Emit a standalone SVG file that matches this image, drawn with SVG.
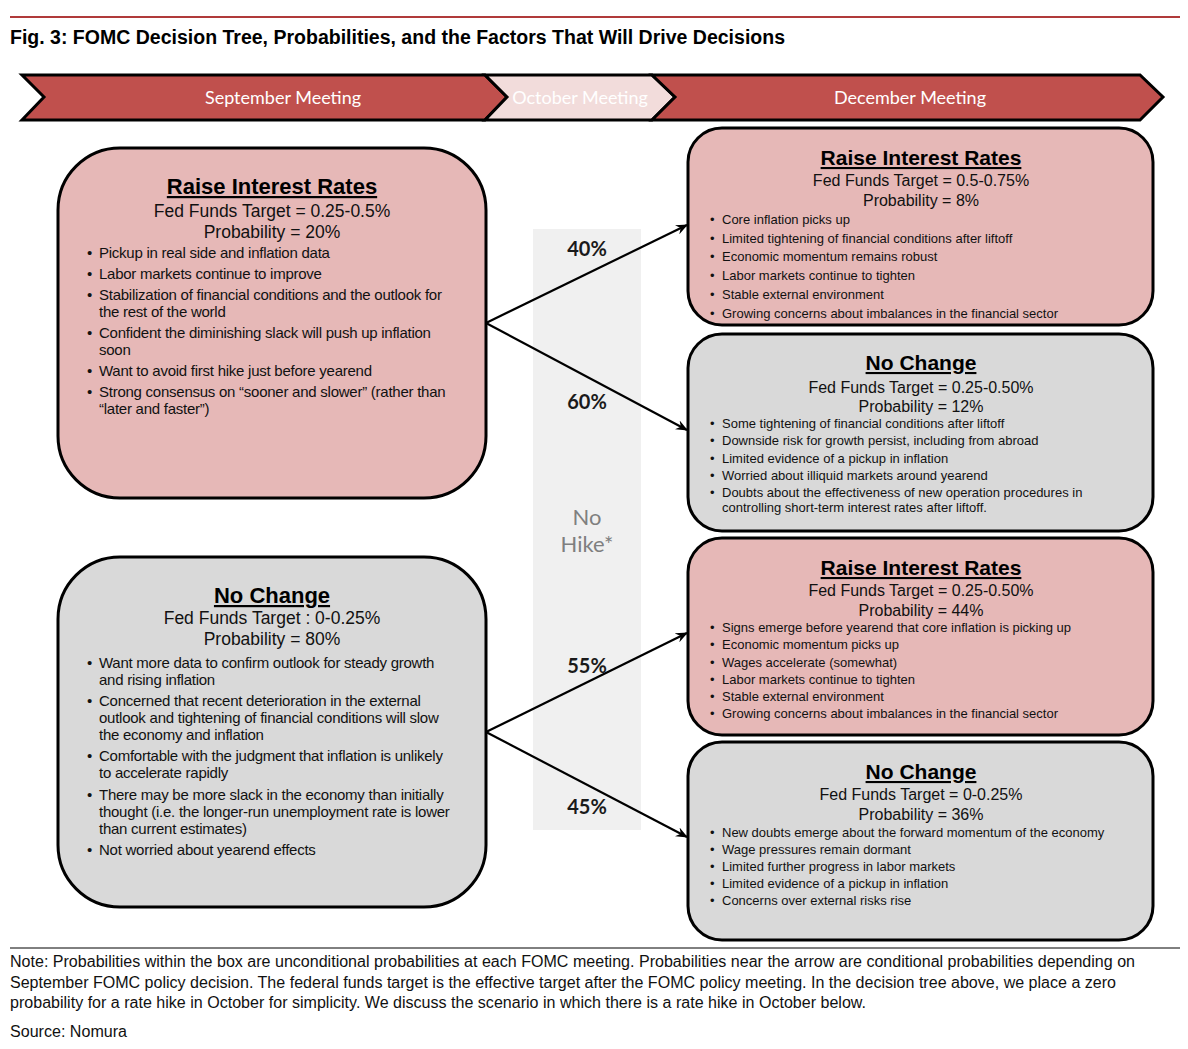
<svg xmlns="http://www.w3.org/2000/svg" width="1188" height="1049" viewBox="0 0 1188 1049">
<style>
.title{font-family:"Liberation Sans",Arial,sans-serif;font-weight:bold;font-size:19.5px;fill:#000}
.band{stroke:#000;stroke-width:3;stroke-linejoin:miter}
.bandtxt{font-family:Lato,"Open Sans",sans-serif;font-size:18px;fill:#fff;text-anchor:middle}
.pink{fill:#e6b8b7;stroke:#000;stroke-width:3}
.gray{fill:#d9d9d9;stroke:#000;stroke-width:3}
.h1{font-family:"Liberation Sans",Arial,sans-serif;font-weight:bold;font-size:22px;text-anchor:middle;text-decoration:underline;fill:#000}
.h2{font-family:"Liberation Sans",Arial,sans-serif;font-weight:bold;font-size:21px;text-anchor:middle;text-decoration:underline;fill:#000}
.s1{font-family:"Liberation Sans",Arial,sans-serif;font-size:17.5px;text-anchor:middle;fill:#111}
.s2{font-family:"Liberation Sans",Arial,sans-serif;font-size:16px;text-anchor:middle;fill:#111}
.b1{font-family:"Liberation Sans",Arial,sans-serif;font-size:15px;letter-spacing:-0.25px;fill:#111}
.b2{font-family:"Liberation Sans",Arial,sans-serif;font-size:13px;fill:#111}
.pct{font-family:Lato,"Open Sans",sans-serif;font-weight:bold;font-size:20px;text-anchor:middle;fill:#1a1a1a}
.nohike{font-family:Lato,"Open Sans",sans-serif;font-size:22px;text-anchor:middle;fill:#7f7f7f}
.conn{stroke:#000;stroke-width:2.2;fill:none;marker-end:url(#arr)}
.note{font-family:"Liberation Sans",Arial,sans-serif;font-size:16px;fill:#111}
</style>
<defs>
<marker id="arr" viewBox="0 0 12 10" refX="11" refY="5" markerWidth="12" markerHeight="10" markerUnits="userSpaceOnUse" orient="auto">
<path d="M0,0 L12,5 L0,10 L4,5 Z" fill="#000"/>
</marker>
</defs>
<rect width="1188" height="1049" fill="#fff"/>
<line x1="10" y1="17" x2="1180" y2="17" stroke="#b03a3a" stroke-width="2"/>
<text class="title" x="10" y="44" textLength="775" lengthAdjust="spacingAndGlyphs">Fig. 3: FOMC Decision Tree, Probabilities, and the Factors That Will Drive Decisions</text>

<g id="banner">
<polygon class="band" fill="#c0504d" points="22,75 485,75 507,97 485,120 22,120 44,97"/>
<polygon class="band" fill="#f2dcdb" points="485,75 652,75 675,97 652,120 485,120 507,97"/>
<polygon class="band" fill="#c0504d" points="652,75 1140,75 1163,97 1140,120 652,120 675,97"/>
<text class="bandtxt" x="283" y="104">September Meeting</text>
<text class="bandtxt" x="580" y="104">October Meeting</text>
<text class="bandtxt" x="910" y="104">December Meeting</text>
</g>

<g id="nohike-band">
<rect x="533" y="229" width="108" height="601" fill="#f0f0f0"/>
<text class="nohike" x="587" y="525">No</text>
<text class="nohike" x="587" y="552">Hike*</text>
</g>

<g id="sep-raise">
<rect class="pink" x="58" y="148" width="428" height="350" rx="62" ry="62"/>
<text class="h1" x="272" y="194">Raise Interest Rates</text>
<text class="s1" x="272" y="217">Fed Funds Target = 0.25-0.5%</text>
<text class="s1" x="272" y="238">Probability = 20%</text>
<g class="b1">
<text x="87" y="258">•</text><text x="99" y="258">Pickup in real side and inflation data</text>
<text x="87" y="279">•</text><text x="99" y="279">Labor markets continue to improve</text>
<text x="87" y="300">•</text><text x="99" y="300">Stabilization of financial conditions and the outlook for</text>
<text x="99" y="317">the rest of the world</text>
<text x="87" y="338">•</text><text x="99" y="338">Confident the diminishing slack will push up inflation</text>
<text x="99" y="355">soon</text>
<text x="87" y="376">•</text><text x="99" y="376">Want to avoid first hike just before yearend</text>
<text x="87" y="397">•</text><text x="99" y="397">Strong consensus on “sooner and slower” (rather than</text>
<text x="99" y="414">“later and faster”)</text>
</g>
</g>

<g id="sep-nochange">
<rect class="gray" x="58" y="557" width="428" height="350" rx="62" ry="62"/>
<text class="h1" x="272" y="603">No Change</text>
<text class="s1" x="272" y="624">Fed Funds Target : 0-0.25%</text>
<text class="s1" x="272" y="645">Probability = 80%</text>
<g class="b1">
<text x="87" y="668">•</text><text x="99" y="668">Want more data to confirm outlook for steady growth</text>
<text x="99" y="685">and rising inflation</text>
<text x="87" y="706">•</text><text x="99" y="706">Concerned that recent deterioration in the external</text>
<text x="99" y="723">outlook and tightening of financial conditions will slow</text>
<text x="99" y="740">the economy and inflation</text>
<text x="87" y="761">•</text><text x="99" y="761">Comfortable with the judgment that inflation is unlikely</text>
<text x="99" y="778">to accelerate rapidly</text>
<text x="87" y="800">•</text><text x="99" y="800">There may be more slack in the economy than initially</text>
<text x="99" y="817">thought (i.e. the longer-run unemployment rate is lower</text>
<text x="99" y="834">than current estimates)</text>
<text x="87" y="855">•</text><text x="99" y="855">Not worried about yearend effects</text>
</g>
</g>

<g id="dec-raise-1">
<rect class="pink" x="688" y="128" width="465" height="197" rx="34" ry="34"/>
<text class="h2" x="921" y="165">Raise Interest Rates</text>
<text class="s2" x="921" y="186">Fed Funds Target = 0.5-0.75%</text>
<text class="s2" x="921" y="206">Probability = 8%</text>
<g class="b2">
<text x="710" y="224">•</text><text x="722" y="224">Core inflation picks up</text>
<text x="710" y="243">•</text><text x="722" y="243">Limited tightening of financial conditions after liftoff</text>
<text x="710" y="261">•</text><text x="722" y="261">Economic momentum remains robust</text>
<text x="710" y="280">•</text><text x="722" y="280">Labor markets continue to tighten</text>
<text x="710" y="299">•</text><text x="722" y="299">Stable external environment</text>
<text x="710" y="318">•</text><text x="722" y="318">Growing concerns about imbalances in the financial sector</text>
</g>
</g>

<g id="dec-nochange-1">
<rect class="gray" x="688" y="334" width="465" height="197" rx="34" ry="34"/>
<text class="h2" x="921" y="370">No Change</text>
<text class="s2" x="921" y="393">Fed Funds Target = 0.25-0.50%</text>
<text class="s2" x="921" y="412">Probability = 12%</text>
<g class="b2">
<text x="710" y="428">•</text><text x="722" y="428">Some tightening of financial conditions after liftoff</text>
<text x="710" y="445">•</text><text x="722" y="445">Downside risk for growth persist, including from abroad</text>
<text x="710" y="463">•</text><text x="722" y="463">Limited evidence of a pickup in inflation</text>
<text x="710" y="480">•</text><text x="722" y="480">Worried about illiquid markets around yearend</text>
<text x="710" y="497">•</text><text x="722" y="497">Doubts about the effectiveness of new operation procedures in</text>
<text x="722" y="512">controlling short-term interest rates after liftoff.</text>
</g>
</g>

<g id="dec-raise-2">
<rect class="pink" x="688" y="538" width="465" height="197" rx="34" ry="34"/>
<text class="h2" x="921" y="575">Raise Interest Rates</text>
<text class="s2" x="921" y="596">Fed Funds Target = 0.25-0.50%</text>
<text class="s2" x="921" y="616">Probability = 44%</text>
<g class="b2">
<text x="710" y="632">•</text><text x="722" y="632">Signs emerge before yearend that core inflation is picking up</text>
<text x="710" y="649">•</text><text x="722" y="649">Economic momentum picks up</text>
<text x="710" y="667">•</text><text x="722" y="667">Wages accelerate (somewhat)</text>
<text x="710" y="684">•</text><text x="722" y="684">Labor markets continue to tighten</text>
<text x="710" y="701">•</text><text x="722" y="701">Stable external environment</text>
<text x="710" y="718">•</text><text x="722" y="718">Growing concerns about imbalances in the financial sector</text>
</g>
</g>

<g id="dec-nochange-2">
<rect class="gray" x="688" y="742" width="465" height="198" rx="34" ry="34"/>
<text class="h2" x="921" y="779">No Change</text>
<text class="s2" x="921" y="800">Fed Funds Target = 0-0.25%</text>
<text class="s2" x="921" y="820">Probability = 36%</text>
<g class="b2">
<text x="710" y="837">•</text><text x="722" y="837">New doubts emerge about the forward momentum of the economy</text>
<text x="710" y="854">•</text><text x="722" y="854">Wage pressures remain dormant</text>
<text x="710" y="871">•</text><text x="722" y="871">Limited further progress in labor markets</text>
<text x="710" y="888">•</text><text x="722" y="888">Limited evidence of a pickup in inflation</text>
<text x="710" y="905">•</text><text x="722" y="905">Concerns over external risks rise</text>
</g>
</g>

<g id="connectors">
<line class="conn" x1="486" y1="323" x2="687" y2="225"/>
<line class="conn" x1="486" y1="323" x2="687" y2="430"/>
<line class="conn" x1="486" y1="732" x2="687" y2="633"/>
<line class="conn" x1="486" y1="732" x2="687" y2="837"/>
<text class="pct" x="587" y="256">40%</text>
<text class="pct" x="587" y="409">60%</text>
<text class="pct" x="587" y="673">55%</text>
<text class="pct" x="587" y="814">45%</text>
</g>

<g id="footer">
<line x1="10" y1="948" x2="1180" y2="948" stroke="#000" stroke-width="1"/>
<text class="note" x="10" y="967" textLength="1125" lengthAdjust="spacingAndGlyphs">Note: Probabilities within the box are unconditional probabilities at each FOMC meeting. Probabilities near the arrow are conditional probabilities depending on</text>
<text class="note" x="10" y="988" textLength="1106" lengthAdjust="spacingAndGlyphs">September FOMC policy decision. The federal funds target is the effective target after the FOMC policy meeting. In the decision tree above, we place a zero</text>
<text class="note" x="10" y="1008" textLength="856" lengthAdjust="spacingAndGlyphs">probability for a rate hike in October for simplicity. We discuss the scenario in which there is a rate hike in October below.</text>
<text class="note" x="10" y="1037" textLength="117" lengthAdjust="spacingAndGlyphs">Source: Nomura</text>
</g>
</svg>
